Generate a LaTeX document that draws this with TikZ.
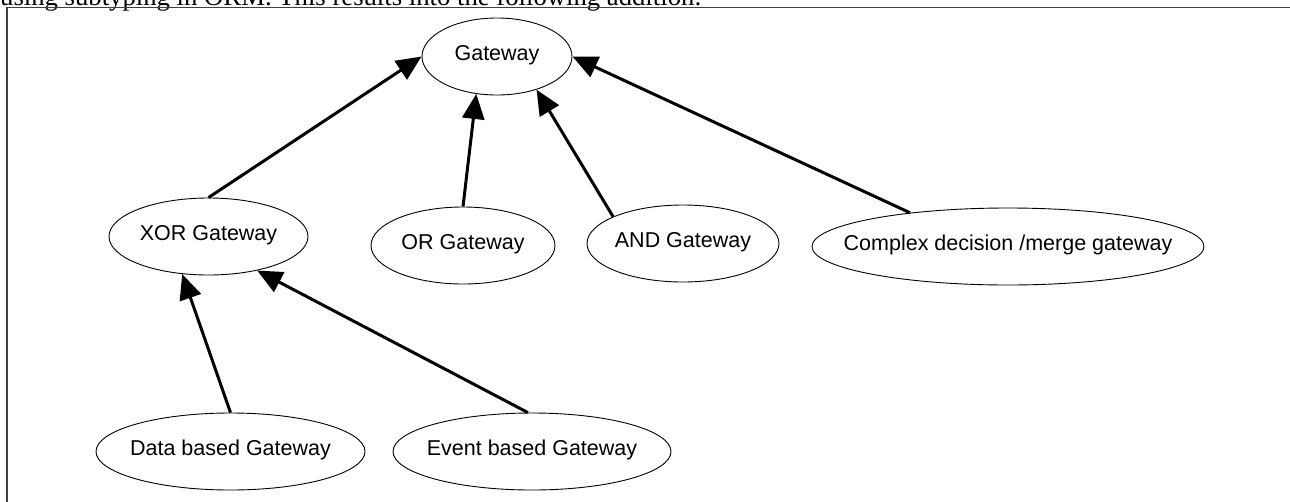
\documentclass[tikz,border=0pt]{standalone}
\usepackage{fontspec}
\setmainfont{Liberation Sans}
\newfontfamily\serifface{Liberation Serif}
\usetikzlibrary{shapes.geometric, arrows.meta}

\begin{document}
\begin{tikzpicture}[x=1pt, y=-1pt,
  class/.style={ellipse, draw, line width=0.9pt, inner sep=0pt,
    text height=0.72em, text depth=0pt, font=\fontsize{21.5}{26}\selectfont},
  isa/.style={line width=3pt, -{Triangle[length=25pt, width=22pt]}},
  frameline/.style={draw=black!75, line width=1.6pt}]
\useasboundingbox (0,0) rectangle (1290,501);
\clip (0,0) rectangle (1290,501);

% running text above the figure frame
\node[anchor=base west, inner sep=0pt,
  font=\serifface\fontsize{26.7}{32}\selectfont] (intro) at (0,5.5)
  {using subtyping in ORM. This results into the following addition:};

% figure frame
\draw[frameline] (1300,7.5) -- (7,7.5) -- (7,510);

% gateway hierarchy
\node[class, minimum width=150pt, minimum height=77pt] (gw)    at (497,56.5)   {\makebox[0pt]{Gateway}};
\node[class, minimum width=199pt, minimum height=77pt] (xor)   at (208.5,236.5) {\makebox[0pt]{XOR Gateway}};
\node[class, minimum width=184pt, minimum height=77pt] (orgw)  at (463,245.5)  {\makebox[0pt]{OR Gateway}};
\node[class, minimum width=192pt, minimum height=77pt] (andgw) at (683,243.5)  {\makebox[0pt]{AND Gateway}};
\node[class, minimum width=392pt, minimum height=77pt] (cx)    at (1008,246.5) {\makebox[0pt]{Complex decision /merge gateway}};
\node[class, minimum width=269pt, minimum height=77pt] (data)  at (230.5,451.5) {\makebox[0pt]{Data based Gateway}};
\node[class, minimum width=278pt, minimum height=77pt] (event) at (532,451.5)  {\makebox[0pt]{Event based Gateway}};

% subtype links
\draw[isa] (xor.90)    -- (gw.180);
\draw[isa] (orgw.90)   -- (gw.241);
\draw[isa] (andgw.159) -- (gw.-40);
\draw[isa] (cx.161)    -- (gw.0);
\draw[isa] (data.90)   -- (xor.235);
\draw[isa] (event.96)  -- (xor.-35);
\end{tikzpicture}
\end{document}
